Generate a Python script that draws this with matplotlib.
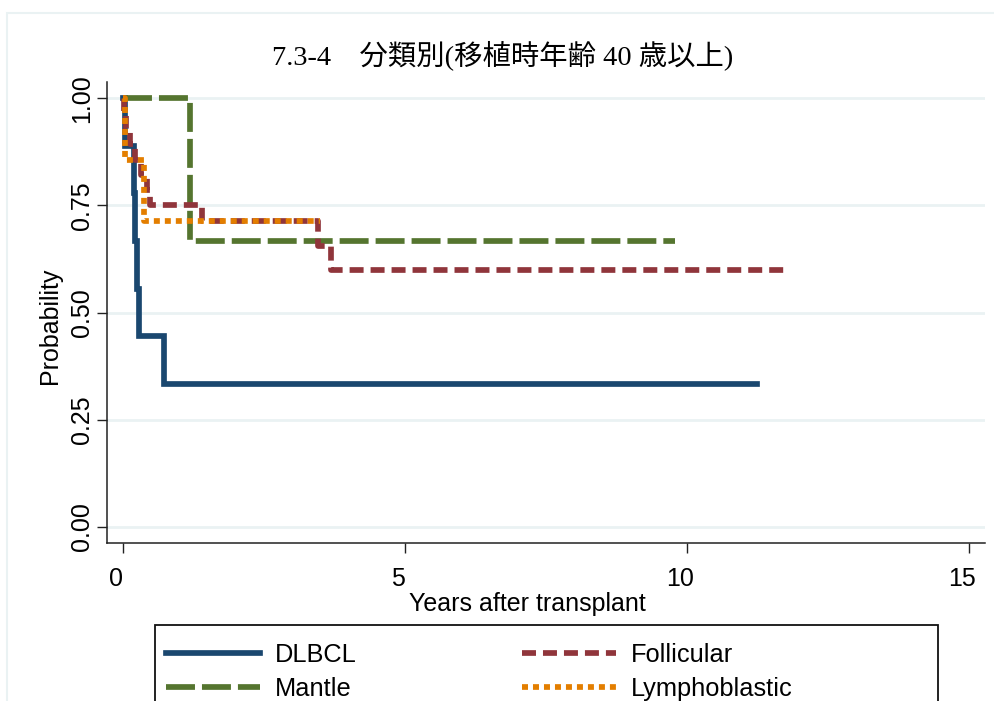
import matplotlib
matplotlib.use("Agg")
import matplotlib.pyplot as plt
from matplotlib.patches import Rectangle
from matplotlib.transforms import ScaledTranslation

plt.rcParams['font.family'] = ['Liberation Sans', 'DejaVu Sans']

# ---- data (Kaplan-Meier steps) ----
dlbcl_t = [0.0, 0.04, 0.20, 0.22, 0.25, 0.28, 0.72, 11.25]
dlbcl_s = [1.0, 0.889, 0.778, 0.667, 0.556, 0.444, 0.333, 0.333]

foll_t = [0.0, 0.01, 0.06, 0.12, 0.22, 0.32, 0.42, 0.47, 1.40, 3.45, 3.68, 11.74]
foll_s = [1.0, 0.964, 0.929, 0.893, 0.857, 0.821, 0.786, 0.750, 0.714, 0.655, 0.600, 0.600]

mantle_t = [0.0, 1.19, 9.79]
mantle_s = [1.0, 0.667, 0.667]

lymph_t = [0.0, 0.03, 0.37, 3.50]
lymph_s = [1.0, 0.857, 0.714, 0.714]

xticks = [0, 5, 10, 15]
yticks = [0.0, 0.25, 0.5, 0.75, 1.0]
ytick_labels = ["0.00", "0.25", "0.50", "0.75", "1.00"]

title = "7.3-4\u3000分類別(移植時年齢 40 歳以上)"
xlabel = "Years after transplant"
ylabel = "Probability"
labels = ["DLBCL", "Mantle", "Follicular", "Lymphoblastic"]

# ---- figure ----
W, H = 995, 701
fig = plt.figure(figsize=(W / 100, H / 100), dpi=100)
fig.patch.set_facecolor("white")

def fx(px):
    return px / W

def fy(py):
    return 1 - py / H

ax = fig.add_axes([fx(107), fy(543), fx(985) - fx(107), fy(82) - fy(543)])

lw = 4.1
c_blue, c_green, c_red, c_orange = "#1a476f", "#55752f", "#90353b", "#e37e00"

l_dl, = ax.step(dlbcl_t, dlbcl_s, where="post", color=c_blue, lw=lw,
                solid_joinstyle="miter", zorder=3)
l_fo, = ax.step(foll_t, foll_s, where="post", color=c_red, lw=lw,
                linestyle=(0, (14 / 5.7, 7 / 5.7)), dash_capstyle="butt", zorder=4)
l_ma, = ax.step(mantle_t, mantle_s, where="post", color=c_green, lw=lw,
                linestyle=(0, (29 / 5.7, 7 / 5.7)), dash_capstyle="butt", zorder=3.5)
l_ly, = ax.step(lymph_t, lymph_s, where="post", color=c_orange, lw=lw,
                linestyle=(0, (6 / 5.7, 5 / 5.7)), dash_capstyle="butt", zorder=5)

ax.set_xlim(-0.284, 15.284)
ax.set_ylim(-0.038, 1.038)
ax.set_xticks(xticks)
ax.set_xticklabels([str(v) for v in xticks])
ax.set_yticks(yticks)
ax.set_yticklabels(ytick_labels)

for s in ["top", "right"]:
    ax.spines[s].set_visible(False)
for s in ["left", "bottom"]:
    ax.spines[s].set_linewidth(1.1)
    ax.spines[s].set_color("#222222")

ax.tick_params(axis="both", direction="out", length=7.5, width=1.0,
               color="#222222", labelsize=18)
ax.tick_params(axis="x", pad=9.5)
ax.tick_params(axis="y", pad=2)
for t in ax.get_yticklabels():
    t.set_rotation(90)
    t.set_va("center")
    t.set_ha("right")
shift = ScaledTranslation(-7 / 100, 0, fig.dpi_scale_trans)
for t in ax.get_xticklabels():
    t.set_transform(t.get_transform() + shift)

ax.yaxis.grid(True, color="#eaf2f3", lw=2.0)
ax.set_axisbelow(True)

ax.set_xlabel(xlabel, fontsize=18)
ax.xaxis.set_label_coords((527 - 107) / 878, (543 - 604) / 461)
ax.xaxis.label.set_va("center")
ax.set_ylabel(ylabel, fontsize=18)
ax.yaxis.set_label_coords((50 - 107) / 878, (543 - 326) / 461)
ax.yaxis.label.set_va("center")

fig.text(fx(503), fy(55), title, fontsize=20.4, ha="center", va="center",
         family=["Liberation Serif", "Noto Sans CJK JP"])

# outer frame
fig.add_artist(Rectangle((fx(7.5), fy(760)), fx(1100) - fx(7.5), fy(12.7) - fy(760),
                         transform=fig.transFigure, fill=False,
                         edgecolor="#eaf2f3", lw=1.5))
# legend box
fig.add_artist(Rectangle((fx(155), fy(760)), fx(938) - fx(155), fy(625) - fy(760),
                         transform=fig.transFigure, fill=False,
                         edgecolor="#111111", lw=1.3))

leg = fig.legend([l_dl, l_ma, l_fo, l_ly], labels, ncol=2, loc="upper left",
                 bbox_to_anchor=(fx(155), fy(632)), frameon=False,
                 fontsize=18.3, handlelength=3.7, handletextpad=0.6,
                 columnspacing=6.5, borderpad=0.42, borderaxespad=0,
                 labelspacing=0.4)

fig.savefig("out.png", dpi=100)
